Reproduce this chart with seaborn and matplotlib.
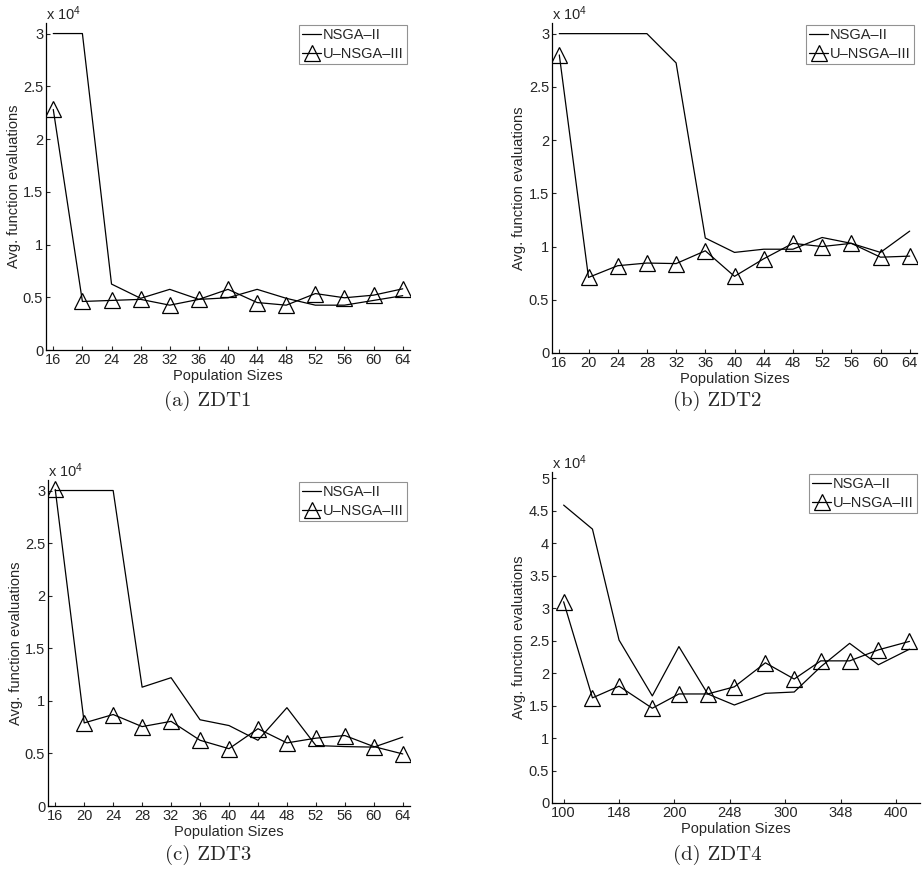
import numpy as np
import pandas as pd
import matplotlib
matplotlib.use('Agg')
import matplotlib.pyplot as plt
import seaborn as sns

# population sizes
pop_small = [16, 20, 24, 28, 32, 36, 40, 44, 48, 52, 56, 60, 64]
pop_zdt4 = [100, 126, 150, 180, 204, 230, 254, 282, 308, 332, 358, 384, 412]
zdt4_ticks = [100, 150, 200, 250, 300, 350, 400]
zdt4_ticklabels = ['100', '148', '200', '248', '300', '348', '400']

# average function evaluations
zdt1_nsga2 = [30000, 30000, 6250, 4900, 5750, 4800, 4950, 5750, 4900, 4250, 4250, 4700, 5150]
zdt1_unsga3 = [22800, 4600, 4700, 4800, 4250, 4800, 5750, 4500, 4250, 5350, 4950, 5200, 5800]

zdt2_nsga2 = [30000, 30000, 30000, 30000, 27250, 10800, 9450, 9750, 9750, 10850, 10300, 9450, 11450]
zdt2_unsga3 = [28000, 7100, 8200, 8450, 8400, 9600, 7200, 8850, 10300, 10000, 10300, 9000, 9100]

zdt3_nsga2 = [30000, 30000, 30000, 11300, 12200, 8200, 7650, 6250, 9350, 5750, 5650, 5600, 6550]
zdt3_unsga3 = [30100, 7900, 8700, 7550, 8050, 6250, 5450, 7350, 6000, 6450, 6700, 5650, 4950]

zdt4_nsga2 = [45900, 42200, 25100, 16500, 24100, 16800, 15100, 16900, 17100, 21000, 24600, 21300, 23700]
zdt4_unsga3 = [31000, 16200, 18000, 14600, 16800, 16800, 17900, 21600, 19100, 21900, 21900, 23600, 24900]

sns.set_style('ticks')
plt.rcParams['font.family'] = ['Liberation Sans', 'DejaVu Sans']
plt.rcParams['mathtext.default'] = 'regular'
plt.rcParams['xtick.direction'] = 'in'
plt.rcParams['ytick.direction'] = 'in'

W, H = 924, 875
fig = plt.figure(figsize=(W / 100, H / 100), dpi=100)


def make_axes(left, right, top, bottom):
    return fig.add_axes([left / W, 1 - bottom / H, (right - left) / W, (bottom - top) / H])


panels = [
    # x, nsga2, unsga3, box (left, right, top, bottom), ylim top, caption
    (pop_small, zdt1_nsga2, zdt1_unsga3, (46, 410, 23, 350), 3.1, '(a) ZDT1', (208, 401)),
    (pop_small, zdt2_nsga2, zdt2_unsga3, (552, 917, 23, 353), 3.1, '(b) ZDT2', (717, 401)),
    (pop_small, zdt3_nsga2, zdt3_unsga3, (48, 410, 480, 806), 3.1, '(c) ZDT3', (208, 855)),
    (pop_zdt4, zdt4_nsga2, zdt4_unsga3, (552, 920, 472, 803), 5.1, '(d) ZDT4', (717, 855)),
]

for i, (xs, y1, y2, box, ytop, caption, cap_xy) in enumerate(panels):
    ax = make_axes(*box)
    df = pd.DataFrame({'pop': xs,
                       'nsga2': np.array(y1) / 1e4,
                       'unsga3': np.array(y2) / 1e4})
    sns.lineplot(data=df, x='pop', y='nsga2', ax=ax, color='k', lw=0.9, label='NSGA\u2013II')
    sns.lineplot(data=df, x='pop', y='unsga3', ax=ax, color='k', lw=0.9,
                 marker='^', markersize=11, markerfacecolor='none',
                 markeredgecolor='k', markeredgewidth=0.9, label='U\u2013NSGA\u2013III')

    if i < 3:
        ax.set_xlim(15, 65)
        ax.set_xticks(pop_small)
        ax.set_yticks(np.arange(0, 3.01, 0.5))
    else:
        ax.set_xlim(89.5, 421.5)
        ax.set_xticks(zdt4_ticks)
        ax.set_xticklabels(zdt4_ticklabels)
        ax.set_yticks(np.arange(0, 5.01, 0.5))
    ax.set_ylim(0, ytop)
    ax.set_yticklabels(['%g' % v for v in ax.get_yticks()])

    sns.despine(ax=ax)
    ax.tick_params(labelsize=10.5, length=3, width=0.8, pad=2)
    for s in ['left', 'bottom']:
        ax.spines[s].set_linewidth(0.9)
        ax.spines[s].set_color('k')

    ax.set_xlabel('Population Sizes', fontsize=10.5)
    ax.set_ylabel('Avg. function evaluations', fontsize=10.5)
    ax.xaxis.set_label_coords(0.5, -0.058)
    ax.yaxis.set_label_coords(-0.07, 0.5)
    ax.text(0.0, 1.0, r'x 10$^{4}$', transform=ax.transAxes, fontsize=10.5,
            ha='left', va='bottom')

    leg = ax.legend(loc='upper right', bbox_to_anchor=(0.992, 0.995), borderaxespad=0,
                    fontsize=10.5, frameon=True, fancybox=False, handlelength=1.3,
                    handletextpad=0.1, labelspacing=0.3, borderpad=0.25, numpoints=1)
    leg.get_frame().set_edgecolor('#777777')
    leg.get_frame().set_linewidth(0.8)

    fig.text(cap_xy[0] / W, 1 - cap_xy[1] / H, caption, family='cmr10',
             fontsize=15, ha='center', va='center')

fig.savefig('out.png', dpi=100)
